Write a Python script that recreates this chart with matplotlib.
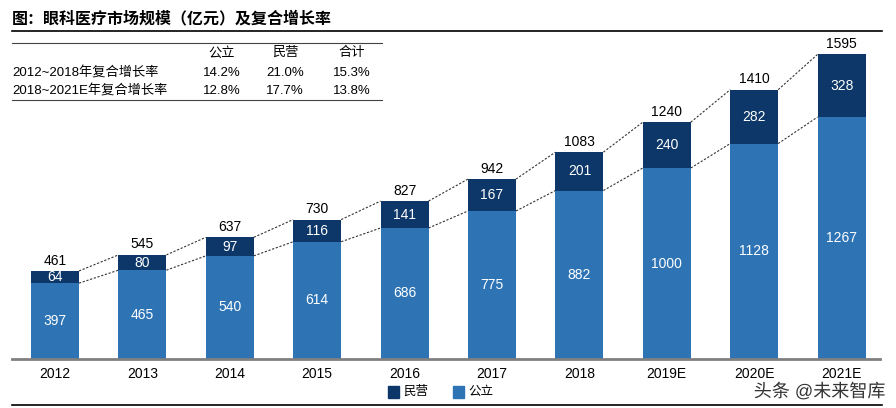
import matplotlib.pyplot as plt
import matplotlib.patheffects as pe
import numpy as np

plt.rcParams['font.family'] = ['Liberation Sans', 'Noto Sans CJK SC', 'DejaVu Sans']

YEARS = ["2012", "2013", "2014", "2015", "2016", "2017", "2018", "2019E", "2020E", "2021E"]
PUBLIC = [397, 465, 540, 614, 686, 775, 882, 1000, 1128, 1267]
PRIVATE = [64, 80, 97, 116, 141, 167, 201, 240, 282, 328]
TOTAL = [461, 545, 637, 730, 827, 942, 1083, 1240, 1410, 1595]

TABLE_COLS = ["公立", "民营", "合计"]
TABLE_ROWS = ["2012~2018年复合增长率", "2018~2021E年复合增长率"]
TABLE_VALS = [["14.2%", "21.0%", "15.3%"], ["12.8%", "17.7%", "13.8%"]]

DARK = "#0c3768"
LIGHT = "#2e74b5"

W, H = 896, 408
fig = plt.figure(figsize=(W / 100, H / 100), dpi=100)


def fx(px):
    return px / W


def fy(py):
    return 1 - py / H


# title and rules
fig.text(fx(12), fy(18), "图：眼科医疗市场规模（亿元）及复合增长率", fontsize=11.5,
         weight="bold", va="center", ha="left")
fig.add_artist(plt.Line2D([fx(12), fx(882)], [fy(31), fy(31)], color="black", lw=1.2))
fig.add_artist(plt.Line2D([fx(12), fx(382)], [fy(43), fy(43)], color="#444444", lw=0.8))
fig.add_artist(plt.Line2D([fx(12), fx(382)], [fy(100), fy(100)], color="#444444", lw=0.8))
fig.add_artist(plt.Line2D([fx(12), fx(882)], [fy(405), fy(405)], color="black", lw=1.2))

# table
col_x = [222, 285, 352]
for c, name in zip(col_x, TABLE_COLS):
    fig.text(fx(c), fy(53), name, fontsize=9.5, ha="center", va="center")
for r, (label, vals) in enumerate(zip(TABLE_ROWS, TABLE_VALS)):
    y = 73 + r * 18
    fig.text(fx(12), fy(y), label, fontsize=9.5, ha="left", va="center")
    for c, v in zip(col_x, vals):
        fig.text(fx(c), fy(y), v, fontsize=9.5, ha="center", va="center")

# bars
ax_left, ax_right, ax_top, ax_bot = 12, 880, 40, 359
ax = fig.add_axes([fx(ax_left), fy(ax_bot), (ax_right - ax_left) / W, (ax_bot - ax_top) / H])
unit = 87.4
x = np.arange(len(YEARS))
ax.set_xlim((ax_left - 55) / unit, (ax_right - 55) / unit)
ax.set_ylim(0, (ax_bot - ax_top) / 0.191)
bw = 48 / unit
ax.bar(x, PUBLIC, bw, color=LIGHT, zorder=2)
ax.bar(x, PRIVATE, bw, bottom=PUBLIC, color=DARK, zorder=2)

for i in range(len(YEARS)):
    ax.text(x[i], PUBLIC[i] / 2, str(PUBLIC[i]), color="white", fontsize=10,
            ha="center", va="center")
    ax.text(x[i], PUBLIC[i] + PRIVATE[i] / 2, str(PRIVATE[i]), color="white",
            fontsize=10, ha="center", va="center")
    ax.text(x[i], TOTAL[i] + 18, str(TOTAL[i]), color="black", fontsize=10,
            ha="center", va="bottom")

for i in range(len(YEARS) - 1):
    for vals in (TOTAL, PUBLIC):
        ax.plot([x[i] + bw / 2, x[i + 1] - bw / 2], [vals[i], vals[i + 1]],
                color="#333333", lw=0.8, ls=(0, (2, 1.5)), zorder=1)

for s in ("top", "right", "left"):
    ax.spines[s].set_visible(False)
ax.spines["bottom"].set_color("#808080")
ax.spines["bottom"].set_linewidth(2)
ax.set_yticks([])
ax.set_xticks(x)
ax.set_xticklabels(YEARS, fontsize=10)
ax.tick_params(axis="x", length=0, pad=6)

# legend
for lx, color, name in ((388, DARK, "民营"), (453, LIGHT, "公立")):
    fig.add_artist(plt.Rectangle((fx(lx), fy(398)), 11 / W, 12 / H, color=color))
    fig.text(fx(lx + 15), fy(392), name, fontsize=9, ha="left", va="center")

# watermark (sits just below the tick labels)
fig.text(fx(885), fy(392), "头条 @未来智库", fontsize=13, ha="right", va="center",
         color="#333333",
         path_effects=[pe.withStroke(linewidth=3, foreground="white")])

fig.savefig("out.png", dpi=100)
